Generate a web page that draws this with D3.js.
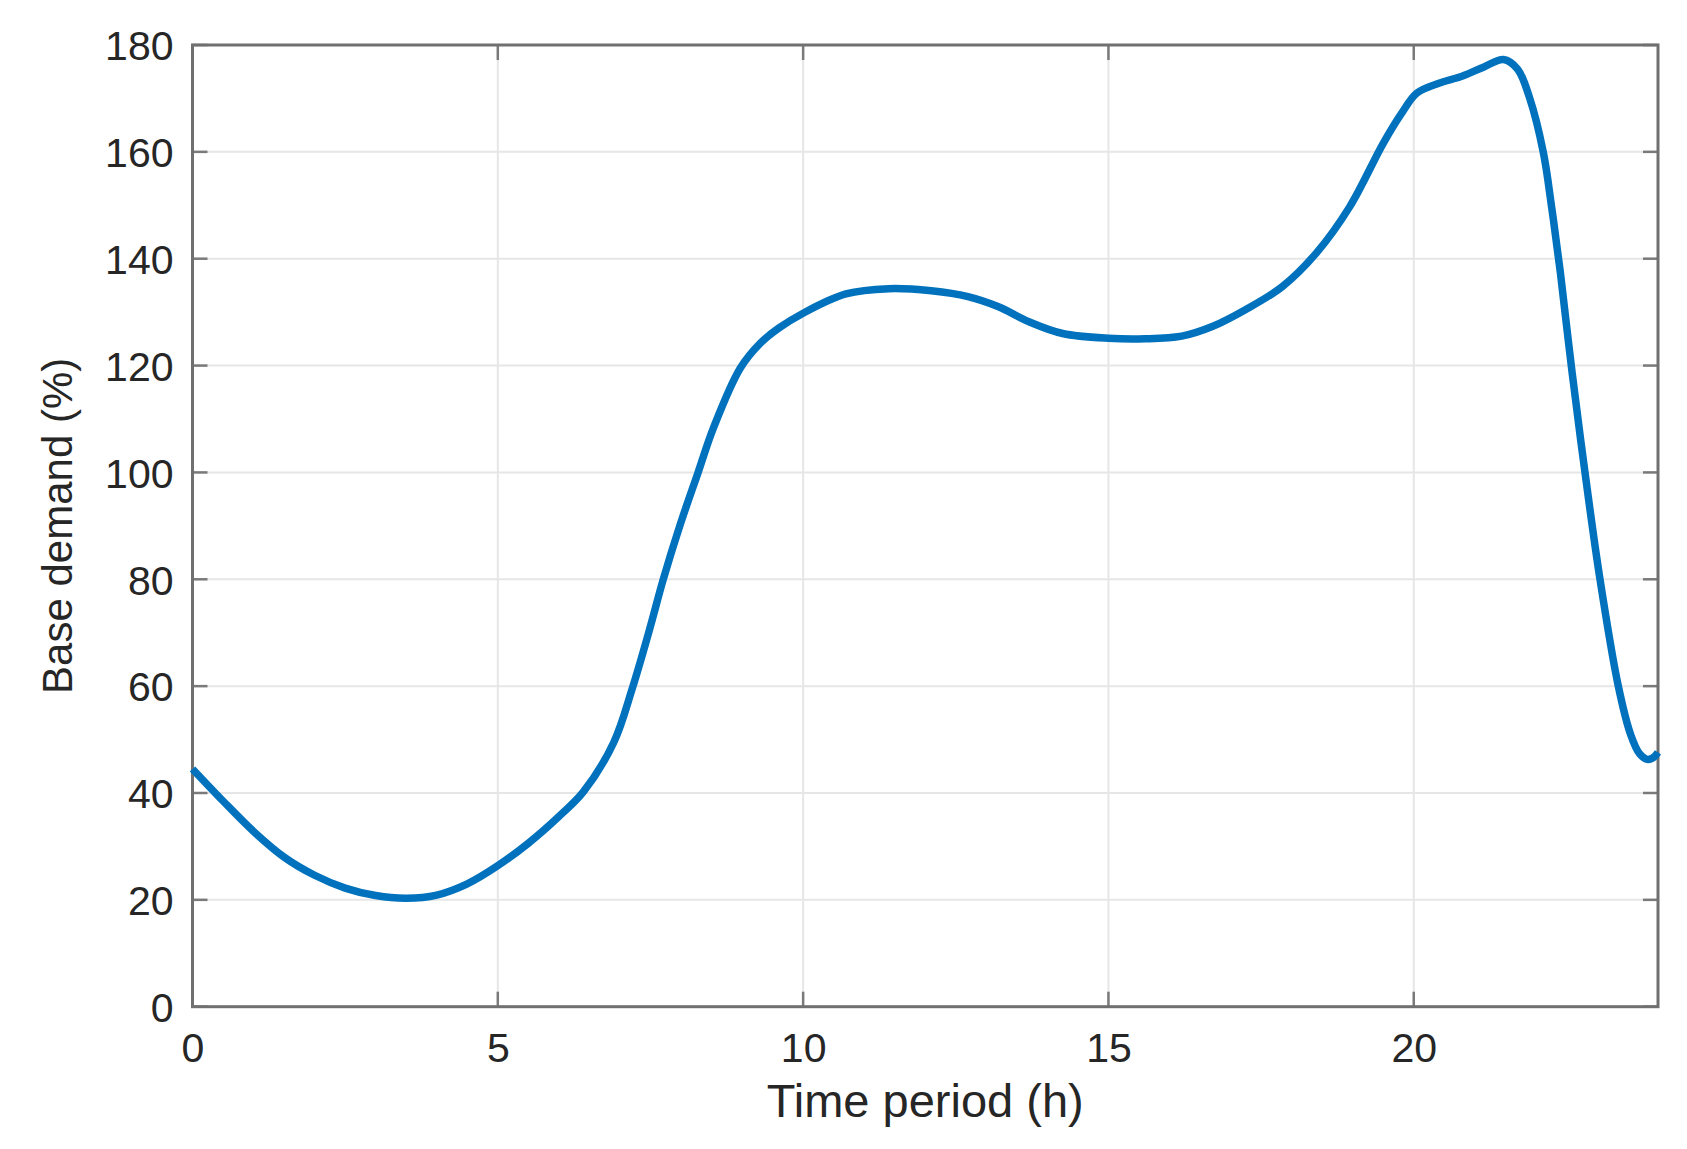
<!DOCTYPE html>
<html>
<head>
<meta charset="utf-8">
<script src="https://cdn.jsdelivr.net/npm/d3@7"></script>
<style>
  html, body { margin: 0; padding: 0; background: #fff; }
  svg { display: block; }
  text { font-family: "Liberation Sans", Arial, Helvetica, sans-serif; fill: #262626; }
</style>
</head>
<body>
<svg id="chart" width="1687" height="1149"></svg>
<script>
// ---- data ----
const hours = [0, 0.5, 1, 1.5, 2, 2.5, 3, 3.5, 4, 4.5, 5, 5.5, 6, 6.4, 6.9, 7.2, 7.47, 7.71, 7.98, 8.28, 8.53, 8.97, 9.3, 9.6, 10, 10.7, 11.4, 12.1, 12.7, 13.2, 13.7, 14.25, 15, 15.6, 16.2, 16.7, 17.25, 17.85, 18.4, 18.95, 19.5, 19.8, 20.05, 20.4, 20.8, 21.15, 21.47, 21.7, 21.9, 22.12, 22.26, 22.4, 22.59, 22.81, 23.05, 23.35, 23.55, 23.7, 23.82, 23.92, 24];
const demand = [44.5, 38.5, 32.8, 28.0, 24.6, 22.2, 20.8, 20.3, 20.9, 23.0, 26.4, 30.6, 35.6, 40.2, 49.5, 59.5, 70.0, 80.0, 90.0, 100.0, 108.3, 119.5, 124.2, 127.0, 129.8, 133.4, 134.4, 134.0, 132.9, 131.0, 128.2, 126.0, 125.1, 125.0, 125.5, 127.3, 130.5, 134.8, 141.0, 149.7, 161.6, 167.2, 171.0, 172.8, 174.2, 175.9, 177.3, 175.5, 170.0, 160.0, 149.5, 137.5, 119.0, 99.5, 80.0, 60.0, 51.0, 47.3, 46.3, 46.6, 47.6];
const xTicks = [0, 5, 10, 15, 20];
const yTicks = [0, 20, 40, 60, 80, 100, 120, 140, 160, 180];
const xLabel = "Time period (h)";
const yLabel = "Base demand (%)";

// ---- layout ----
const L = 192.5, R = 1658, T = 45, B = 1006.7;
const svg = d3.select("#chart");
const x = d3.scaleLinear().domain([0, 24]).range([L, R]);
const y = d3.scaleLinear().domain([0, 180]).range([B, T]);

// grid
const g = svg.append("g");
g.selectAll("line.gx").data(xTicks.filter(d => d > 0)).enter().append("line")
  .attr("x1", d => x(d)).attr("x2", d => x(d)).attr("y1", T).attr("y2", B)
  .attr("stroke", "#e6e6e6").attr("stroke-width", 2);
g.selectAll("line.gy").data(yTicks.filter(d => d > 0 && d < 180)).enter().append("line")
  .attr("x1", L).attr("x2", R).attr("y1", d => y(d)).attr("y2", d => y(d))
  .attr("stroke", "#e6e6e6").attr("stroke-width", 2);

// ticks (inside, on all four sides)
const tickLen = 15, tickColor = "#7a7a7a";
const tk = svg.append("g").attr("stroke", tickColor).attr("stroke-width", 2.5);
xTicks.forEach(d => {
  tk.append("line").attr("x1", x(d)).attr("x2", x(d)).attr("y1", B).attr("y2", B - tickLen);
  tk.append("line").attr("x1", x(d)).attr("x2", x(d)).attr("y1", T).attr("y2", T + tickLen);
});
yTicks.forEach(d => {
  tk.append("line").attr("x1", L).attr("x2", L + tickLen).attr("y1", y(d)).attr("y2", y(d));
  tk.append("line").attr("x1", R).attr("x2", R - tickLen).attr("y1", y(d)).attr("y2", y(d));
});

// box
svg.append("rect").attr("x", L).attr("y", T).attr("width", R - L).attr("height", B - T)
  .attr("fill", "none").attr("stroke", "#707070").attr("stroke-width", 3);

// tick labels
const xAxis = d3.axisBottom(x).tickValues(xTicks).tickSize(0).tickPadding(0).tickFormat(d3.format("d"));
const xa = svg.append("g").attr("transform", `translate(0,${B})`).call(xAxis);
xa.select(".domain").remove();
xa.selectAll("text").attr("font-size", 41).attr("dy", null).attr("y", 55)
  .attr("fill", "#262626").style("font-family", '"Liberation Sans", Arial, sans-serif');

const yAxis = d3.axisLeft(y).tickValues(yTicks).tickSize(0).tickPadding(0).tickFormat(d3.format("d"));
const ya = svg.append("g").attr("transform", `translate(${L},0)`).call(yAxis);
ya.select(".domain").remove();
ya.selectAll("text").attr("font-size", 41).attr("x", -19).attr("dy", "0.36em")
  .attr("fill", "#262626").style("font-family", '"Liberation Sans", Arial, sans-serif');

// axis labels
svg.append("text").attr("x", (L + R) / 2).attr("y", 1117).attr("text-anchor", "middle")
  .attr("font-size", 47).text(xLabel);
svg.append("text").attr("transform", `translate(72,${(T + B) / 2}) rotate(-90)`)
  .attr("text-anchor", "middle").attr("font-size", 42).text(yLabel);

// data line
const line = d3.line().x((d, i) => x(hours[i])).y(d => y(d)).curve(d3.curveCatmullRom.alpha(0.5));
svg.append("path").datum(demand).attr("d", line)
  .attr("fill", "none").attr("stroke", "#0072BD").attr("stroke-width", 7.5)
  .attr("stroke-linejoin", "round");
</script>
</body>
</html>
